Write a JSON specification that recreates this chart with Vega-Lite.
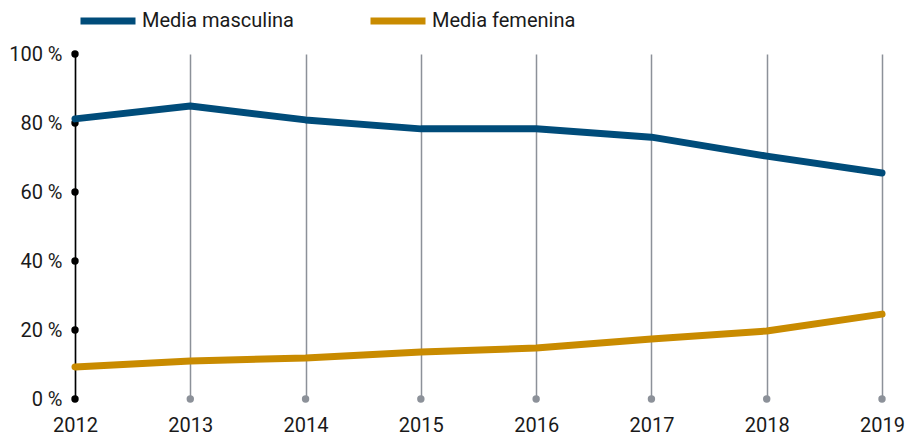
{
  "$schema": "https://vega.github.io/schema/vega-lite/v6.json",
  "width": 807,
  "height": 345,
  "autosize": {"type": "none"},
  "padding": {"left": 75, "top": 54, "right": 24, "bottom": 38},
  "background": "white",
  "config": {
    "view": {"stroke": null},
    "font": "Roboto",
    "axis": {"labelFont": "Roboto", "labelFontSize": 20, "labelColor": "#1a1a1a"}
  },
  "datasets": {
    "series": [
      {"year": 2012, "serie": "Media masculina", "valor": 81.2},
      {"year": 2013, "serie": "Media masculina", "valor": 84.9},
      {"year": 2014, "serie": "Media masculina", "valor": 80.9},
      {"year": 2015, "serie": "Media masculina", "valor": 78.3},
      {"year": 2016, "serie": "Media masculina", "valor": 78.3},
      {"year": 2017, "serie": "Media masculina", "valor": 75.9},
      {"year": 2018, "serie": "Media masculina", "valor": 70.4},
      {"year": 2019, "serie": "Media masculina", "valor": 65.5},
      {"year": 2012, "serie": "Media femenina", "valor": 9.3},
      {"year": 2013, "serie": "Media femenina", "valor": 11.0},
      {"year": 2014, "serie": "Media femenina", "valor": 11.9},
      {"year": 2015, "serie": "Media femenina", "valor": 13.6},
      {"year": 2016, "serie": "Media femenina", "valor": 14.8},
      {"year": 2017, "serie": "Media femenina", "valor": 17.4},
      {"year": 2018, "serie": "Media femenina", "valor": 19.7},
      {"year": 2019, "serie": "Media femenina", "valor": 24.6}
    ],
    "years": [
      {"year": 2013, "valor": 0},
      {"year": 2014, "valor": 0},
      {"year": 2015, "valor": 0},
      {"year": 2016, "valor": 0},
      {"year": 2017, "valor": 0},
      {"year": 2018, "valor": 0},
      {"year": 2019, "valor": 0}
    ],
    "yticks": [
      {"year": 2012, "valor": 0},
      {"year": 2012, "valor": 20},
      {"year": 2012, "valor": 40},
      {"year": 2012, "valor": 60},
      {"year": 2012, "valor": 80},
      {"year": 2012, "valor": 100}
    ]
  },
  "layer": [
    {
      "data": {"name": "years"},
      "mark": {"type": "point", "filled": true, "color": "#8c9199", "size": 55, "opacity": 1},
      "encoding": {
        "x": {
          "field": "year", "type": "quantitative",
          "scale": {"domain": [2012, 2019], "nice": false, "zero": false},
          "axis": {
            "values": [2012, 2013, 2014, 2015, 2016, 2017, 2018, 2019],
            "format": "d", "title": null, "domain": false, "ticks": false,
            "labelPadding": 16, "grid": true, "gridColor": "#8c9199", "gridWidth": 1.5,
            "labelFlush": false
          }
        },
        "y": {
          "field": "valor", "type": "quantitative",
          "scale": {"domain": [0, 100], "nice": false},
          "axis": {
            "values": [0, 20, 40, 60, 80, 100],
            "labelExpr": "datum.value + ' %'",
            "title": null, "grid": false, "ticks": false,
            "domainColor": "#000000", "domainWidth": 1.5,
            "labelPadding": 13, "zindex": 0
          }
        }
      }
    },
    {
      "data": {"name": "yticks"},
      "mark": {"type": "point", "filled": true, "color": "#000000", "size": 55, "opacity": 1},
      "encoding": {
        "x": {"field": "year", "type": "quantitative"},
        "y": {"field": "valor", "type": "quantitative"}
      }
    },
    {
      "data": {"name": "series"},
      "mark": {"type": "line", "strokeWidth": 7, "strokeCap": "round", "strokeJoin": "round"},
      "encoding": {
        "x": {"field": "year", "type": "quantitative"},
        "y": {"field": "valor", "type": "quantitative"},
        "color": {
          "field": "serie", "type": "nominal",
          "scale": {"domain": ["Media masculina", "Media femenina"], "range": ["#004c7a", "#c98b00"]},
          "legend": {
            "orient": "none", "legendX": 2, "legendY": -64, "direction": "horizontal",
            "title": null, "symbolType": "stroke", "symbolSize": 3025, "symbolStrokeWidth": 7,
            "labelFontSize": 20, "labelFont": "Roboto", "labelColor": "#1a1a1a",
            "columnPadding": 62, "labelOffset": 3, "symbolOffset": 0
          }
        }
      }
    }
  ]
}
